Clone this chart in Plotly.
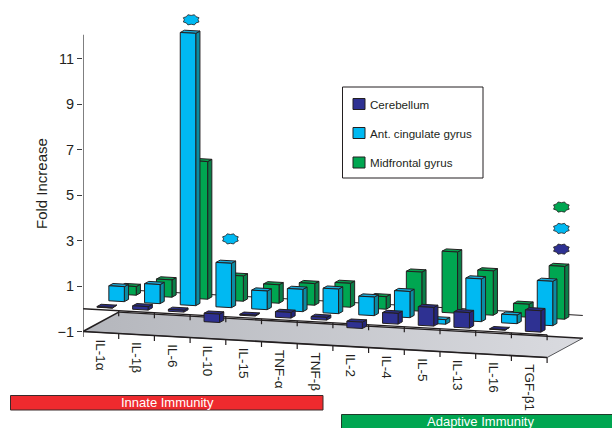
import math
import plotly.graph_objects as go

categories = ["IL-1α", "IL-1β", "IL-6", "IL-10", "IL-15", "TNF-α", "TNF-β",
              "IL-2", "IL-4", "IL-5", "IL-13", "IL-16", "TGF-β1"]
cerebellum = [0.03, 0.15, 0.08, -0.37, 0.04, 0.25, 0.12, -0.28, 0.47, 0.82, 0.68, 0.02, 0.94]
cingulate = [0.66, 0.84, 11.97, 1.95, 0.82, 0.98, 1.08, 0.82, 1.15, -0.2, 1.88, 0.38, 1.95]
midfrontal = [0.38, 0.76, 6.05, 1.11, 0.81, 0.95, 1.05, 0.55, 1.72, 2.69, 1.95, 0.57, 2.32]
y_ticks = [-1, 1, 3, 5, 7, 9, 11]
series_names = ["Cerebellum", "Ant. cingulate gyrus", "Midfrontal gyrus"]

# significance markers: series index, category index, level on the value axis
sig_series = [1, 1, 2, 1, 0]
sig_cats = [2, 3, 12, 12, 12]
sig_levels = [12.7, 3.07, 4.47, 3.53, 2.62]
sig_depth = [0.53, 0.63, 0.9, 0.9, 0.9]

NAVY = dict(front="#2E3192", side="#23267A", top="#2A2D80")
CYAN = dict(front="#00B9F2", side="#0B8CA3", top="#18A9D8")
GREEN = dict(front="#00A651", side="#0A7F48", top="#0B9A4E")
INK = "#231F20"

W, H = 612, 428
PX_CAT, PX_VAL = 35.7, 22.75
LEFT = 83
Y_AT_M1 = 331.5
SKEW = 0.088      # value units lost per category going right
DEPTH_X = 1.0     # categories moved per full depth
DEPTH_Y = 0.85    # value units gained per full depth
BAR_W = 0.434
BAR_D = 0.118


def project(cat, depth, val):
    return cat + DEPTH_X * depth, val - SKEW * cat + DEPTH_Y * depth


def poly(points):
    xs, ys = [], []
    for c, d, v in points:
        x, y = project(c, d, v)
        xs.append(x)
        ys.append(y)
    xs.append(xs[0])
    ys.append(ys[0])
    return xs, ys


def line_trace(xs, ys, width=1.0, color=INK):
    return go.Scatter(x=xs, y=ys, mode="lines", line=dict(color=color, width=width),
                      hoverinfo="skip", showlegend=False)


def fill_trace(xs, ys, color):
    return go.Scatter(x=xs, y=ys, mode="lines", fill="toself", fillcolor=color,
                      line=dict(color=INK, width=1.0), hoverinfo="skip", showlegend=False)


fig = go.Figure()
n = len(categories)

# floor at value -1
fx, fy = poly([(0, 0, -1), (n, 0, -1), (n, 1, -1), (0, 1, -1)])
fig.add_trace(go.Scatter(x=fx, y=fy, mode="lines", fill="toself",
                         fillgradient=dict(type="horizontal",
                                           colorscale=[[0, "#B4B6BC"], [1, "#DADBE0"]]),
                         line=dict(width=0), hoverinfo="skip", showlegend=False))
# floor outline
ex, ey = poly([(n, 1, -1), (n, 0, -1), (0, 0, -1), (0, 1, -1), (n, 1, -1)])
fig.add_trace(line_trace(ex[:3], ey[:3], 1.0, "#55565A"))
fig.add_trace(line_trace(ex[1:4], ey[1:4], 1.6))
fig.add_trace(line_trace(ex[3:5], ey[3:5], 1.4))

# zero plane: back and front edges
bx0, by0 = project(0, 1, 0)
bx1, by1 = project(n, 1, 0)
fig.add_trace(line_trace([bx0, bx1], [by0, by1], 1.0))
zx0, zy0 = project(0, 0, 0)
zx1, zy1 = project(n, 0, 0)
fig.add_trace(line_trace([zx0, zx1], [zy0, zy1], 1.3))

# category ticks on both front edges
tx, ty = [], []
for i in range(1, n + 1):
    for base in (0, -1):
        a = project(i, 0, base)
        tx += [a[0], a[0], None]
        ty += [a[1], a[1] - 0.24, None]
a = project(0, 0, -1)
tx += [a[0], a[0], None]
ty += [a[1], a[1] - 0.24, None]
fig.add_trace(line_trace(tx, ty, 1.2))


def add_series(values, row, colors):
    depth = (row + 0.5) / 3
    fr, si, to = ([], []), ([], []), ([], [])
    for i, v in enumerate(values):
        c0 = i + 0.5 - BAR_W / 2
        c1 = i + 0.5 + BAR_W / 2
        d0 = depth - BAR_D / 2
        d1 = depth + BAR_D / 2
        lo, hi = min(0, v), max(0, v)
        faces = [
            (fr, [(c0, d0, lo), (c1, d0, lo), (c1, d0, hi), (c0, d0, hi)]),
            (si, [(c1, d0, lo), (c1, d1, lo), (c1, d1, hi), (c1, d0, hi)]),
            (to, [(c0, d0, hi), (c1, d0, hi), (c1, d1, hi), (c0, d1, hi)]),
        ]
        for store, pts in faces:
            xs, ys = poly(pts)
            store[0].extend(xs + [None])
            store[1].extend(ys + [None])
    fig.add_trace(fill_trace(si[0], si[1], colors["side"]))
    fig.add_trace(fill_trace(to[0], to[1], colors["top"]))
    fig.add_trace(fill_trace(fr[0], fr[1], colors["front"]))


# painter's order: back row first
add_series(midfrontal, 2, GREEN)
add_series(cingulate, 1, CYAN)
add_series(cerebellum, 0, NAVY)

# significance seals
seal_colors = [NAVY["front"], CYAN["front"], GREEN["front"]]
for s, c, lv, dp in zip(sig_series, sig_cats, sig_levels, sig_depth):
    cx = c + 0.5 + DEPTH_X * dp
    xs, ys = [], []
    for k in range(17):
        ang = math.pi * k / 8
        r = 1.0 if k % 2 else 0.8
        xs.append(cx + r * math.cos(ang) * 8.5 / PX_CAT)
        ys.append(lv + r * math.sin(ang) * 5.5 / PX_VAL)
    fig.add_trace(go.Scatter(x=xs, y=ys, mode="lines", fill="toself",
                             fillcolor=seal_colors[s], line=dict(color=INK, width=0.8),
                             hoverinfo="skip", showlegend=False))

# value axis line
fig.add_trace(line_trace([0, 0], [-1, 12.04], 1.3, "#3A3A3C"))

# category labels hanging under the floor
annotations = []
for i, name in enumerate(categories):
    x, y = project(i + 0.5, 0, -1)
    annotations.append(dict(x=x, y=y - 0.24, xref="x", yref="y", text=name, textangle=90,
                            showarrow=False, xanchor="center", yanchor="top",
                            font=dict(size=13.5, color=INK)))


def px(x):
    return (x - LEFT) / (W - LEFT)


def py(y):
    return 1 - y / H


annotations.append(dict(x=px(41), y=py(184), xref="paper", yref="paper", text="Fold Increase",
                        textangle=-90, showarrow=False, xanchor="center", yanchor="middle",
                        font=dict(size=15, color=INK)))

shapes = [
    dict(type="rect", xref="paper", yref="paper", x0=px(342.5), x1=px(483), y0=py(178), y1=py(87),
         line=dict(color=INK, width=1), fillcolor="white", layer="above"),
    dict(type="rect", xref="paper", yref="paper", x0=px(10.5), x1=px(323), y0=py(410), y1=py(395.5),
         line=dict(color="#3A2A2A", width=1), fillcolor="#EE2A2E", layer="above"),
    dict(type="rect", xref="paper", yref="paper", x0=px(341.5), x1=px(620), y0=py(440), y1=py(414.5),
         line=dict(color="#1F3B2A", width=1), fillcolor="#00A651", layer="above"),
]
for name, col, yc in zip(series_names, [NAVY["front"], CYAN["front"], GREEN["front"]], [104, 133, 162.5]):
    shapes.append(dict(type="rect", xref="paper", yref="paper", x0=px(353), x1=px(365),
                       y0=py(yc + 5.5), y1=py(yc - 5.5), line=dict(color=INK, width=1),
                       fillcolor=col, layer="above"))
    annotations.append(dict(x=px(368), y=py(yc), xref="paper", yref="paper", text=name,
                            showarrow=False, xanchor="left", yanchor="middle",
                            font=dict(size=11.6, color=INK)))
annotations.append(dict(x=px(167), y=py(402.5), xref="paper", yref="paper", text="Innate Immunity",
                        showarrow=False, xanchor="center", yanchor="middle",
                        font=dict(size=13, color="white")))
annotations.append(dict(x=px(480), y=py(421), xref="paper", yref="paper", text="Adaptive Immunity",
                        showarrow=False, xanchor="center", yanchor="middle",
                        font=dict(size=13, color="white")))

fig.update_layout(
    width=W, height=H, margin=dict(l=LEFT, r=0, t=0, b=0, pad=0),
    paper_bgcolor="white", plot_bgcolor="white", showlegend=False,
    font=dict(family="Liberation Sans, Arial, sans-serif", color=INK),
    xaxis=dict(visible=False, range=[0, (W - LEFT) / PX_CAT], fixedrange=True),
    yaxis=dict(range=[-1 - (H - Y_AT_M1) / PX_VAL, -1 + Y_AT_M1 / PX_VAL], tickmode="array",
               tickvals=y_ticks, ticks="outside", ticklen=5, tickwidth=1.2, tickcolor="#3A3A3C",
               tickfont=dict(size=14.5, color=INK), showgrid=False, zeroline=False, showline=False,
               fixedrange=True),
    annotations=annotations, shapes=shapes,
)
fig.write_html("out.html", config=dict(displayModeBar=False),
               post_script="document.body.style.margin='0';document.body.style.overflow='hidden';")
